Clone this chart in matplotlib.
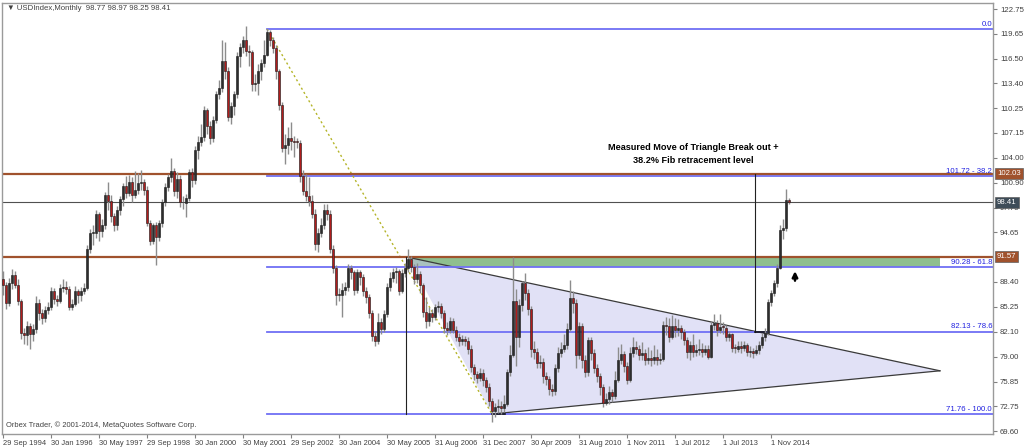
import numpy as np
import matplotlib
matplotlib.use('Agg')
import matplotlib.pyplot as plt
import matplotlib.transforms as mtransforms

plt.rcParams['font.family'] = ['Liberation Sans', 'DejaVu Sans']

# Monthly USDIndex candles (close, high, low), open = previous close
closes = [
    88.0, 85.7, 88.3, 89.3, 88.0, 86.0, 81.9, 81.7, 82.8, 81.8,
    82.5, 85.8, 84.5, 83.8, 84.8, 85.2, 87.3, 86.3, 86.0, 87.6,
    87.8, 87.5, 85.2, 85.6, 87.2, 86.8, 87.2, 87.6, 92.6, 94.5,
    94.6, 97.0, 94.8, 95.5, 99.3, 98.6, 96.7, 95.6, 97.5, 98.8,
    100.5, 99.6, 101.0, 99.3, 100.0, 100.9, 101.0, 100.0, 95.8, 93.6,
    95.5, 94.0, 95.8, 98.4, 100.4, 101.6, 102.4, 99.8, 101.4, 98.4,
    98.3, 99.0, 102.2, 101.2, 105.0, 106.0, 106.6, 110.0, 108.0, 106.5,
    108.8, 112.0, 112.8, 116.2, 115.0, 109.2, 110.5, 112.0, 116.8, 118.0,
    118.9, 117.5, 117.3, 113.3, 113.5, 115.0, 116.0, 117.0, 119.9, 118.8,
    117.8, 114.9, 110.7, 105.2, 105.6, 106.5, 106.2, 106.0, 105.9, 101.7,
    99.9, 99.2, 98.6, 97.0, 93.2, 94.6, 95.5, 97.5, 97.0, 92.6,
    90.1, 86.7, 86.8, 87.4, 87.7, 90.1, 89.6, 87.4, 89.6, 89.0,
    87.3, 86.5, 84.5, 81.6, 81.0, 83.3, 82.5, 84.3, 87.7, 88.9,
    89.6, 89.8, 87.3, 89.5, 90.2, 91.3, 90.3, 88.8, 89.4, 88.0,
    84.6, 83.5, 84.5, 84.0, 85.2, 85.3, 84.5, 82.6, 82.3, 83.5,
    82.3, 81.5, 81.0, 81.2, 81.0, 80.0, 77.7, 76.8, 76.3, 76.9,
    76.0, 75.2, 73.4, 72.1, 72.6, 72.8, 72.5, 73.0, 77.0, 79.2,
    86.0, 81.5, 85.5, 88.2, 87.0, 85.0, 80.0, 79.6, 78.2, 78.3,
    76.6, 76.2, 74.9, 74.7, 77.5, 79.5, 80.0, 80.5, 82.5, 86.4,
    85.8, 79.2, 82.8, 78.6, 77.0, 81.1, 79.5, 77.6, 76.5, 75.1,
    73.2, 73.6, 74.5, 74.0, 76.1, 78.6, 79.3, 77.8, 76.1, 79.5,
    80.2, 80.0, 79.2, 79.5, 78.6, 78.8, 78.6, 78.9, 78.5, 78.7,
    83.0, 82.8, 81.5, 82.8, 82.3, 82.6, 82.1, 81.1, 79.6, 80.5,
    79.6, 79.8, 79.9, 79.6, 79.9, 79.0, 83.0, 83.2, 82.3, 82.7,
    82.6, 81.5, 81.8, 80.1, 80.0, 80.3, 80.1, 80.4, 79.6, 79.7,
    79.5, 79.8, 80.5, 81.5, 82.0, 85.9, 87.0, 88.2, 90.2, 94.9,
    95.2, 98.77, 98.41,
]
highs = [
    89.8, 88.4, 88.9, 90.0, 89.8, 88.8, 86.3, 82.6, 83.5, 83.2,
    83.1, 86.6, 86.2, 85.0, 85.4, 85.9, 87.7, 87.6, 86.8, 88.1,
    88.8, 88.5, 87.9, 86.2, 87.9, 87.5, 87.8, 88.2, 93.0, 95.1,
    95.6, 97.5, 97.2, 96.3, 99.7, 101.0, 99.3, 97.1, 98.0, 99.2,
    100.8, 101.7, 101.9, 101.6, 102.4, 102.1, 102.5, 101.4, 100.5, 96.2,
    95.8, 95.9, 96.2, 98.8, 100.8, 102.0, 104.0, 102.8, 102.2, 101.8,
    99.2, 99.5, 102.6, 102.8, 105.5, 106.8, 108.3, 110.5, 110.3, 108.6,
    109.3, 112.5, 113.8, 118.9, 118.6, 115.4, 111.0, 112.5, 117.4, 118.5,
    119.4, 120.6, 118.2, 117.6, 114.6, 115.8, 116.5, 118.8, 120.24, 120.1,
    119.2, 118.2, 115.2, 111.0, 107.0, 107.9, 108.5, 106.8, 106.5, 106.3,
    102.5, 102.0, 101.6, 99.3, 97.6, 95.2, 96.5, 98.2, 98.2, 97.4,
    93.0, 90.5, 87.6, 88.2, 88.4, 90.6, 90.5, 89.9, 90.0, 89.9,
    89.4, 87.8, 86.9, 84.9, 82.2, 84.5, 83.8, 84.9, 88.2, 89.7,
    90.2, 90.3, 90.0, 90.0, 90.8, 92.6, 91.7, 90.7, 90.8, 89.8,
    88.3, 86.5, 85.2, 85.0, 85.6, 86.0, 85.7, 84.8, 83.3, 84.0,
    83.9, 82.8, 82.0, 81.7, 81.6, 81.4, 80.4, 78.1, 77.2, 77.6,
    77.4, 76.4, 75.6, 73.8, 73.2, 73.6, 73.4, 74.1, 77.4, 80.4,
    91.5, 87.5, 86.2, 88.5, 89.5, 87.5, 85.4, 81.0, 80.1, 79.2,
    78.8, 77.1, 76.6, 75.5, 78.0, 80.2, 80.8, 81.8, 83.2, 88.6,
    87.2, 86.2, 83.4, 83.2, 79.2, 81.5, 81.5, 79.9, 78.0, 76.9,
    75.5, 74.4, 75.3, 74.9, 77.2, 80.2, 80.6, 79.7, 78.3, 80.2,
    81.5, 81.0, 80.5, 80.8, 80.0, 80.2, 79.8, 80.4, 80.0, 79.5,
    83.5, 84.0, 83.8, 84.2, 83.8, 83.7, 83.0, 82.5, 81.5, 81.0,
    81.8, 80.6, 81.2, 80.7, 80.4, 80.4, 83.5, 84.4, 83.6, 84.4,
    83.3, 83.0, 82.2, 82.0, 80.6, 81.0, 80.9, 80.9, 80.7, 80.3,
    80.1, 80.4, 81.0, 81.9, 82.6, 86.3, 87.4, 88.6, 90.6, 95.5,
    96.3, 100.1, 98.97,
]
lows = [
    86.8, 85.0, 85.3, 87.5, 87.6, 85.5, 81.2, 80.6, 80.4, 79.9,
    81.0, 82.0, 83.6, 83.1, 83.4, 84.3, 84.9, 85.6, 85.4, 85.7,
    87.1, 86.9, 84.8, 84.9, 85.3, 85.7, 86.0, 86.9, 87.4, 92.0,
    93.0, 93.9, 93.6, 94.0, 95.0, 97.5, 96.0, 94.8, 94.9, 96.8,
    98.0, 99.0, 99.2, 98.5, 99.0, 99.5, 100.0, 99.4, 95.4, 93.0,
    93.2, 90.5, 93.5, 95.3, 98.0, 99.8, 101.0, 99.2, 99.0, 97.8,
    97.6, 96.6, 98.6, 100.4, 100.7, 103.9, 105.5, 106.2, 107.0, 105.8,
    106.0, 108.4, 111.4, 112.3, 114.0, 108.6, 108.3, 109.4, 111.6, 115.5,
    117.2, 116.8, 115.6, 112.5, 112.4, 111.9, 113.8, 115.4, 116.8, 118.1,
    117.2, 114.0, 110.0, 104.8, 103.3, 104.5, 105.0, 104.1, 105.2, 101.0,
    99.3, 98.6, 97.9, 96.4, 92.4, 92.2, 94.0, 95.0, 96.2, 92.0,
    89.5, 85.5, 86.0, 84.0, 86.8, 87.2, 88.8, 86.8, 87.0, 88.0,
    86.6, 85.8, 83.9, 80.9, 80.3, 80.6, 81.8, 82.1, 84.0, 87.2,
    88.4, 88.3, 86.7, 87.0, 89.0, 89.7, 89.6, 88.1, 88.3, 87.0,
    84.0, 82.6, 82.8, 83.4, 83.6, 84.6, 83.8, 82.0, 81.7, 81.9,
    81.9, 80.9, 80.3, 80.4, 80.3, 79.3, 77.1, 76.1, 75.6, 75.9,
    75.3, 74.5, 72.8, 70.7, 71.4, 71.9, 71.8, 72.0, 72.8, 76.6,
    78.9, 77.8, 80.2, 84.7, 86.1, 84.2, 79.0, 78.7, 77.6, 77.5,
    75.7, 75.4, 74.2, 74.0, 74.2, 77.1, 78.9, 79.6, 80.0, 82.2,
    84.5, 77.6, 78.7, 77.5, 76.4, 76.6, 78.6, 76.9, 75.8, 74.2,
    72.7, 72.9, 73.0, 73.3, 73.6, 75.8, 78.0, 77.0, 75.5, 75.8,
    79.0, 79.3, 78.5, 78.6, 77.9, 78.0, 77.8, 78.0, 77.9, 78.0,
    78.4, 81.7, 80.8, 81.2, 81.4, 81.6, 81.2, 80.5, 78.8, 78.6,
    79.0, 79.1, 79.2, 78.9, 79.2, 78.7, 78.8, 82.4, 81.6, 81.9,
    81.8, 80.9, 81.0, 79.6, 79.4, 79.6, 79.4, 79.7, 79.1, 79.0,
    78.8, 79.2, 79.3, 80.1, 81.0, 81.7, 85.4, 86.6, 87.8, 90.0,
    93.8, 94.8, 98.25,
]
first_open = 88.8

date_labels = ['29 Sep 1994', '30 Jan 1996', '30 May 1997', '29 Sep 1998', '30 Jan 2000',
               '30 May 2001', '29 Sep 2002', '30 Jan 2004', '30 May 2005', '31 Aug 2006',
               '31 Dec 2007', '30 Apr 2009', '31 Aug 2010', '1 Nov 2011', '1 Jul 2012',
               '1 Jul 2013', '1 Nov 2014']
price_ticks = [122.75, 119.65, 116.50, 113.40, 110.25, 107.15, 104.00, 100.90, 97.75,
               94.65, 88.40, 85.25, 82.10, 79.00, 75.85, 72.75, 69.60]

# Fibonacci retracement levels
fib_values = [120.24, 101.72, 90.28, 82.13, 71.76]
fib_labels = ['0.0', '101.72 - 38.2', '90.28 - 61.8', '82.13 - 78.6', '71.76 - 100.0']

resistance_levels = [102.03, 91.57]
last_price = 98.41

# triangle corners (bar index, price)
tri_bars = [135, 163, 312.3]
tri_prices = [91.5, 71.76, 77.2]

closes = np.array(closes)
highs = np.array(highs)
lows = np.array(lows)
opens = np.concatenate([[first_open], closes[:-1]])
idx = np.arange(len(closes))

fig = plt.figure(figsize=(10.24, 4.48), dpi=100)
ax = fig.add_axes([2 / 1024, 14 / 448, 991 / 1024, 431 / 448])
x_max = 330
ax.set_xlim(-0.33, x_max)
ax.set_ylim(69.24, 123.52)

# green zone between 61.8 fib and 91.57
ax.fill_between([tri_bars[0], tri_bars[2]], fib_values[2], resistance_levels[1],
                color='#8fbf8f', zorder=1, lw=0)

# triangle
ax.fill(tri_bars, tri_prices, color='#c4c4ee', alpha=0.5, lw=0, zorder=1.5)
ax.plot([tri_bars[0], tri_bars[2]], [tri_prices[0], tri_prices[2]], color='#3a3a3a', lw=0.9, zorder=2)
ax.plot([tri_bars[1], tri_bars[2]], [tri_prices[1], tri_prices[2]], color='#3a3a3a', lw=0.9, zorder=2)

# fib lines and labels
for v, lab in zip(fib_values, fib_labels):
    ax.plot([88, x_max], [v, v], color='#7070f4', lw=1.3, zorder=2)
    ax.text(x_max - 0.3, v + 0.15, lab, color='#2020e0', fontsize=5.6,
            ha='right', va='bottom', zorder=5)

# fib trend line (dotted)
ax.plot([88, 163], [120.24, 71.76], color='#b4b428', lw=1.0, ls=(0, (1.5, 2)), zorder=2)

# horizontal levels
for v in resistance_levels:
    ax.axhline(v, color='#a0522d', lw=1.6, zorder=2)
ax.axhline(last_price, color='#505050', lw=0.8, zorder=2)

# measured move verticals
ax.plot([134.3, 134.3], [91.57, 71.76], color='#222222', lw=0.8, zorder=2)
ax.plot([250.7, 250.7], [102.03, 82.13], color='#222222', lw=0.8, zorder=2)
ax.plot([163, 167.5], [71.76, 71.76], color='#111111', lw=1.2, zorder=2)
ax.plot([250.7, 254.5], [82.13, 82.13], color='#111111', lw=1.2, zorder=2)

# candles
ax.vlines(idx, lows, highs, color='#8c8c8c', lw=1.0, zorder=3)
body = closes - opens
body = np.where(np.abs(body) < 0.12, 0.12, body)
colors = np.where(closes >= opens, '#2e2e2e', '#b01c1c')
ax.bar(idx, body, bottom=opens, width=0.66, color=colors, edgecolor='#1a1a1a',
       linewidth=0.4, zorder=4)

# annotation
ax.text(230, 104.5, 'Measured Move of Triangle Break out +\n38.2% Fib retracement level',
        fontsize=6.6, fontweight='bold', ha='center', va='center', linespacing=1.5, zorder=6)
ax.annotate('', xy=(264, 90.1), xytext=(264, 88.2),
            arrowprops=dict(arrowstyle='-|>', color='black', lw=1.8, mutation_scale=8), zorder=6)

# axes styling
for side in ['top', 'left', 'right', 'bottom']:
    ax.spines[side].set_color('#9a9a9a')
    ax.spines[side].set_linewidth(1.0)
ax.yaxis.tick_right()
ax.set_yticks(price_ticks)
ax.set_yticklabels(['%.2f' % v for v in price_ticks])
ax.tick_params(axis='y', length=3, width=0.8, color='#808080', labelsize=5.6,
               labelcolor='#404040', pad=2)
ax.set_xticks(np.arange(0, 16 * len(date_labels), 16))
ax.set_xticklabels(date_labels, ha='left')
ax.tick_params(axis='x', length=3, width=0.8, color='#808080', labelsize=5.4,
               labelcolor='#404040', pad=1)

# price boxes on the right axis
trans = mtransforms.blended_transform_factory(ax.transAxes, ax.transData)
for v, fc in [(102.03, '#a0522d'), (91.57, '#a0522d'), (last_price, '#3e4c58')]:
    ax.text(1.004, v, '%.2f' % v, transform=trans, fontsize=5.6, color='white',
            ha='left', va='center', zorder=7, clip_on=False,
            bbox=dict(boxstyle='square,pad=0.25', fc=fc, ec='#606060', lw=0.5))

fig.text(7 / 1024, 1 - 8 / 448, '\u25bc USDIndex,Monthly  98.77 98.97 98.25 98.41',
         fontsize=5.6, color='#404040', va='center')
fig.text(6 / 1024, 1 - 425 / 448, 'Orbex Trader, \u00a9 2001-2014, MetaQuotes Software Corp.',
         fontsize=5.4, color='#404040', va='center')

plt.savefig('out.png', dpi=100)
